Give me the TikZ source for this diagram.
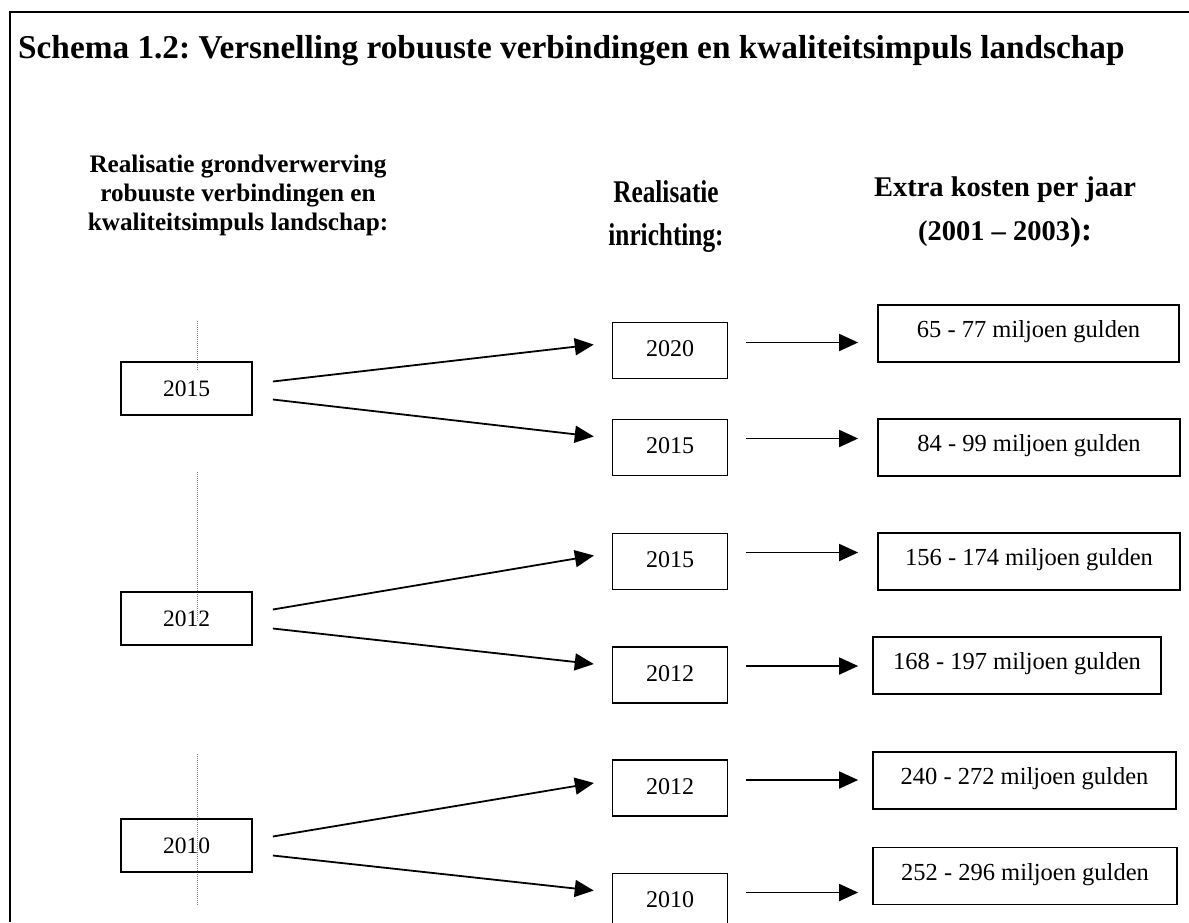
\documentclass[tikz,border=0pt]{standalone}
\usepackage{fontspec}
\setmainfont{Liberation Serif}
\newfontfamily\narrowserif[FakeStretch=0.8]{Liberation Serif}
\usetikzlibrary{arrows.meta, positioning, calc}
\frenchspacing

\tikzset{
  frameline/.style={line width=2.2pt, color=black},
  guide/.style={line width=0.9pt, color=gray, dash pattern=on 1pt off 1pt},
  grondbox/.style={rectangle, draw=black, line width=1.7pt, minimum width=131pt,
    minimum height=53pt, inner sep=0pt, font=\fontsize{23.5}{28}\selectfont,
    text height=16pt, text depth=0pt},
  inrichtbox/.style={rectangle, draw=black, line width=1.7pt, minimum width=115pt,
    minimum height=56pt, inner sep=0pt, font=\fontsize{24}{28}\selectfont,
    text height=16pt, text depth=4pt},
  kostenbox/.style={rectangle, draw=black, line width=1.7pt, minimum height=57pt,
    inner sep=0pt, font=\fontsize{24.5}{29}\selectfont, text height=16pt, text depth=8pt},
  titel/.style={font=\bfseries\fontsize{33.3}{40}\selectfont, inner sep=0pt},
  kop/.style={align=center, font=\bfseries\fontsize{25.2}{29}\selectfont},
  pijl/.style={-{Triangle[length=19pt, width=17pt]}, line width=1.8pt}
}

\begin{document}
\begin{tikzpicture}[x=1pt, y=-1pt]
  \useasboundingbox (0,0) rectangle (1189,922);
  \clip (0,0) rectangle (1189,922);
  \draw[frameline] (10,922) -- (10,12) -- (1189,12);

  % titel en kopjes
  \node[titel, anchor=base west] (titel) at (18,58)
    {Schema 1.2: Versnelling robuuste verbindingen en kwaliteitsimpuls landschap};
  \node[kop] (kopgrond) at (238,195)
    {Realisatie grondverwerving\\robuuste verbindingen en\\kwaliteitsimpuls landschap:};
  \node[kop, font=\narrowserif\bfseries\fontsize{31.6}{43}\selectfont] (kopinricht) at (666,217)
    {Realisatie\\inrichting:};
  \node[kop, font=\bfseries\fontsize{28.5}{44}\selectfont] (kopkosten) at (1005,212.5)
    {Extra kosten per jaar\\(2001 – 2003{\fontsize{33}{44}\selectfont ):}};

  % hulplijnen
  \draw[guide] (197,321) -- (197,370);
  \draw[guide] (197,472) -- (197,622);
  \draw[guide] (197,754) -- (197,905);

  % grondverwerving
  \node[grondbox] (g2015) at (186.5,388.5) {2015};
  \node[grondbox] (g2012) at (186.5,618.5) {2012};
  \node[grondbox] (g2010) at (186.5,845.5) {2010};

  % inrichting
  \node[inrichtbox] (i2020) at (670,350.5) {2020};
  \node[inrichtbox] (i2015a) at (670,447.5) {2015};
  \node[inrichtbox] (i2015b) at (670,561.5) {2015};
  \node[inrichtbox] (i2012a) at (670,675) {2012};
  \node[inrichtbox] (i2012b) at (670,788) {2012};
  \node[inrichtbox] (i2010) at (670,901.5) {2010};

  % kosten
  \node[kostenbox, minimum width=301pt] (k1) at (1028.5,333.5) {65 - 77 miljoen gulden};
  \node[kostenbox, minimum width=302pt] (k2) at (1029,447.5) {84 - 99 miljoen gulden};
  \node[kostenbox, minimum width=302pt] (k3) at (1029,561.5) {156 - 174 miljoen gulden};
  \node[kostenbox, minimum width=288pt] (k4) at (1017,665.5) {168 - 197 miljoen gulden};
  \node[kostenbox, minimum width=303pt] (k5) at (1024.5,780.5) {240 - 272 miljoen gulden};
  \node[kostenbox, minimum width=304pt] (k6) at (1025,876) {252 - 296 miljoen gulden};

  % pijlen grond -> inrichting
  \draw[pijl, shorten >=18pt] ([xshift=20pt,yshift=7pt]g2015.east) -- ([yshift=8pt]i2020.west);
  \draw[pijl, shorten >=18pt] ([xshift=20pt,yshift=-11pt]g2015.east) -- ([yshift=9pt]i2015a.west);
  \draw[pijl, shorten >=18pt] ([xshift=20pt,yshift=9pt]g2012.east) -- ([yshift=9pt]i2015b.west);
  \draw[pijl, shorten >=18pt] ([xshift=20pt,yshift=-10pt]g2012.east) -- ([yshift=9pt]i2012a.west);
  \draw[pijl, shorten >=18pt] ([xshift=20pt,yshift=9pt]g2010.east) -- ([yshift=8pt]i2012b.west);
  \draw[pijl, shorten >=18pt] ([xshift=20pt,yshift=-10pt]g2010.east) -- ([yshift=9pt]i2010.west);

  % pijlen inrichting -> kosten
  \draw[pijl, shorten <=18pt, shorten >=19pt] ([yshift=8pt]i2020.east) -- ([yshift=8pt]i2020.east -| k1.west);
  \draw[pijl, shorten <=18pt, shorten >=19pt] ([yshift=9pt]i2015a.east) -- ([yshift=9pt]i2015a.east -| k2.west);
  \draw[pijl, shorten <=18pt, shorten >=19pt] ([yshift=9pt]i2015b.east) -- ([yshift=9pt]i2015b.east -| k3.west);
  \draw[pijl, shorten <=18pt, shorten >=14pt] ([yshift=9pt]i2012a.east) -- ([yshift=9pt]i2012a.east -| k4.west);
  \draw[pijl, shorten <=18pt, shorten >=14pt] ([yshift=8pt]i2012b.east) -- ([yshift=8pt]i2012b.east -| k5.west);
  \draw[pijl, shorten <=18pt, shorten >=14pt] ([yshift=9pt]i2010.east) -- ([yshift=9pt]i2010.east -| k6.west);
\end{tikzpicture}
\end{document}
